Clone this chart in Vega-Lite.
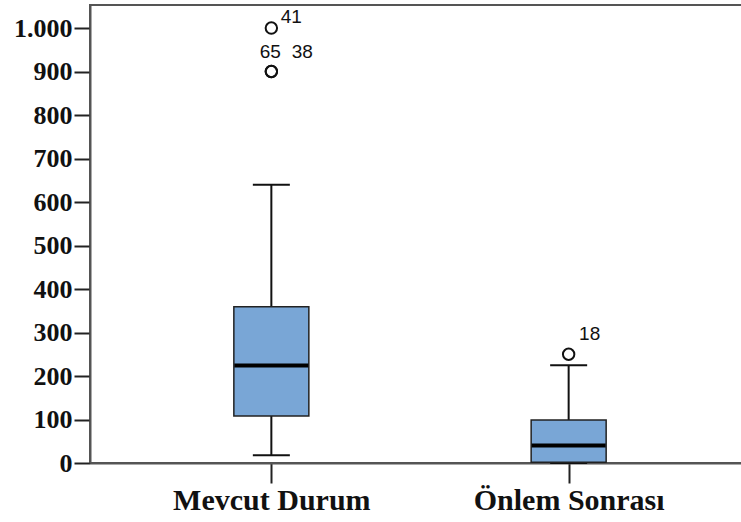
{
  "$schema": "https://vega.github.io/schema/vega-lite/v6.json",
  "autosize": {"type": "none"},
  "padding": {"left": 90, "top": 5, "right": 0, "bottom": 59},
  "width": 660,
  "height": 458,
  "background": "white",
  "config": {
    "view": {"stroke": "#555", "strokeWidth": 2},
    "axis": {"grid": false},
    "axisX": {"labelFont": "Liberation Serif", "labelFontWeight": "bold", "labelFontSize": 30, "labelLimit": 0}
  },
  "datasets": {
    "boxes": [
      {"grup": "Mevcut Durum", "alt": 18, "q1": 108, "medyan": 224, "q3": 359, "ust": 640},
      {"grup": "Önlem Sonrası", "alt": 0, "q1": 2, "medyan": 40, "q3": 99, "ust": 225}
    ],
    "outliers": [
      {"grup": "Mevcut Durum", "deger": 1000, "etiket": "41"},
      {"grup": "Mevcut Durum", "deger": 900, "etiket": "65"},
      {"grup": "Mevcut Durum", "deger": 900, "etiket": "38"},
      {"grup": "Önlem Sonrası", "deger": 250, "etiket": "18"}
    ]
  },
  "encoding": {
    "x": {
      "field": "grup", "type": "nominal",
      "sort": ["Mevcut Durum", "Önlem Sonrası"],
      "scale": {"type": "point", "padding": 0.61},
      "axis": {
        "title": null, "labelAngle": 0, "domainColor": "#555", "domainWidth": 2,
        "tickColor": "#222", "tickWidth": 2, "tickSize": 20, "labelPadding": 2, "labelLimit": 0,
        "labelFont": "Liberation Serif", "labelFontWeight": "bold", "labelFontSize": 30, "labelColor": "#111"
      }
    }
  },
  "layer": [
    {
      "data": {"name": "boxes"},
      "mark": {"type": "rule", "color": "#111", "strokeWidth": 2, "opacity": 1},
      "encoding": {
        "y": {
          "field": "alt", "type": "quantitative",
          "scale": {"domain": [0, 1053], "nice": false, "zero": true},
          "axis": {
            "title": null, "values": [0, 100, 200, 300, 400, 500, 600, 700, 800, 900, 1000],
            "labelExpr": "replace(format(datum.value, ','), ',', '.')",
            "domainColor": "#555", "domainWidth": 2,
            "tickColor": "#222", "tickWidth": 2, "tickSize": 16, "labelPadding": 2,
            "labelFont": "Liberation Serif", "labelFontWeight": "bold", "labelFontSize": 26, "labelColor": "#111"
          }
        },
        "y2": {"field": "ust"}
      }
    },
    {
      "data": {"name": "boxes"},
      "mark": {"type": "tick", "color": "#111", "size": 37, "thickness": 2, "opacity": 1},
      "encoding": {"y": {"field": "alt", "type": "quantitative"}}
    },
    {
      "data": {"name": "boxes"},
      "mark": {"type": "tick", "color": "#111", "size": 37, "thickness": 2, "opacity": 1},
      "encoding": {"y": {"field": "ust", "type": "quantitative"}}
    },
    {
      "data": {"name": "boxes"},
      "mark": {"type": "bar", "size": 75, "fill": "#79a6d6", "stroke": "#222", "strokeWidth": 1.5, "opacity": 1, "fillOpacity": 1, "strokeOpacity": 1},
      "encoding": {
        "y": {"field": "q1", "type": "quantitative"},
        "y2": {"field": "q3"}
      }
    },
    {
      "data": {"name": "boxes"},
      "mark": {"type": "tick", "color": "#000", "size": 74, "thickness": 4, "opacity": 1},
      "encoding": {"y": {"field": "medyan", "type": "quantitative"}}
    },
    {
      "data": {"name": "outliers"},
      "mark": {"type": "point", "shape": "circle", "size": 130, "filled": false, "stroke": "#111", "strokeWidth": 2, "opacity": 1},
      "encoding": {"y": {"field": "deger", "type": "quantitative"}}
    },
    {
      "data": {"name": "outliers"},
      "transform": [{"filter": "datum.etiket == '41'"}],
      "mark": {"type": "text", "font": "Liberation Sans", "fontSize": 19, "color": "#111", "dx": 20, "dy": -11},
      "encoding": {"y": {"field": "deger", "type": "quantitative"}, "text": {"field": "etiket"}}
    },
    {
      "data": {"name": "outliers"},
      "transform": [{"filter": "datum.etiket == '65'"}],
      "mark": {"type": "text", "font": "Liberation Sans", "fontSize": 19, "color": "#111", "dx": -1, "dy": -20},
      "encoding": {"y": {"field": "deger", "type": "quantitative"}, "text": {"field": "etiket"}}
    },
    {
      "data": {"name": "outliers"},
      "transform": [{"filter": "datum.etiket == '38'"}],
      "mark": {"type": "text", "font": "Liberation Sans", "fontSize": 19, "color": "#111", "dx": 31, "dy": -20},
      "encoding": {"y": {"field": "deger", "type": "quantitative"}, "text": {"field": "etiket"}}
    },
    {
      "data": {"name": "outliers"},
      "transform": [{"filter": "datum.etiket == '18'"}],
      "mark": {"type": "text", "font": "Liberation Sans", "fontSize": 19, "color": "#111", "dx": 21, "dy": -20},
      "encoding": {"y": {"field": "deger", "type": "quantitative"}, "text": {"field": "etiket"}}
    }
  ]
}
